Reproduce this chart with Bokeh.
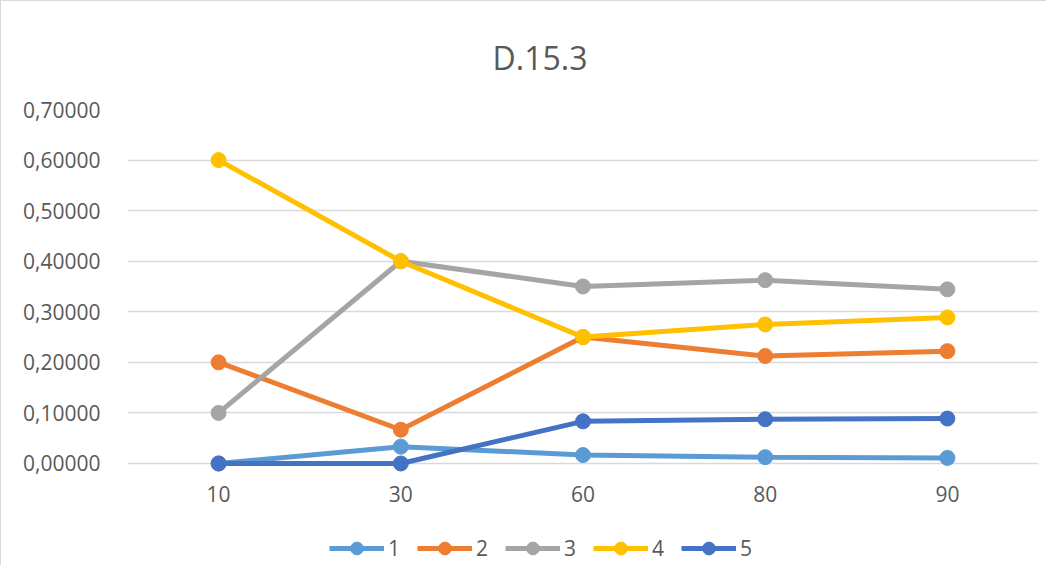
from bokeh.plotting import figure
from bokeh.models import Range1d, FactorRange, FixedTicker, CustomJSTickFormatter, Legend, LegendItem
from bokeh.core.properties import value
from bokeh.embed import file_html
from bokeh.resources import INLINE

title = "D.15.3"
categories = ["10", "30", "60", "80", "90"]
series_names = ["1", "2", "3", "4", "5"]
s1 = [0.0, 0.0333, 0.0167, 0.0125, 0.0111]
s2 = [0.2, 0.0667, 0.25, 0.2125, 0.2222]
s3 = [0.1, 0.4, 0.35, 0.3625, 0.3444]
s4 = [0.6, 0.4, 0.25, 0.275, 0.2889]
s5 = [0.0, 0.0, 0.0833, 0.0875, 0.0889]
y_ticks = [0.0, 0.1, 0.2, 0.3, 0.4, 0.5, 0.6, 0.7]

series = [s1, s2, s3, s4, s5]
colors = ["#5B9BD5", "#ED7D31", "#A5A5A5", "#FFC000", "#4472C4"]
FONT = "Open Sans"
TXT = "#595959"

# frame extended below zero so the category labels and legend live inside it
Y_MIN = -0.1938
LABEL_Y = -0.0613

p = figure(width=1046, height=565, output_backend="svg", toolbar_location=None,
           x_range=FactorRange(*categories, range_padding=0),
           y_range=Range1d(Y_MIN, 0.7),
           min_border_left=126, min_border_right=9, min_border_top=108, min_border_bottom=5)
p.outline_line_color = None
p.title.text = title
p.title.align = "left"
p.title.offset = 365
p.title.text_font = FONT
p.title.text_font_size = "32px"
p.title.text_font_style = "normal"
p.title.text_color = TXT
p.title.standoff = 62

p.xaxis.visible = False
p.xgrid.grid_line_color = None
p.ygrid.grid_line_color = "#D9D9D9"
p.ygrid.grid_line_width = 1.5
p.yaxis.ticker = FixedTicker(ticks=y_ticks)
p.yaxis.formatter = CustomJSTickFormatter(code="return tick.toFixed(5).replace('.', ',');")
p.yaxis.axis_line_color = None
p.yaxis.major_tick_line_color = None
p.yaxis.minor_tick_line_color = None
p.yaxis.major_label_text_font = FONT
p.yaxis.major_label_text_font_size = "21px"
p.yaxis.major_label_text_color = TXT
p.yaxis.major_label_standoff = 21

# category labels
p.text(x=categories, y=[LABEL_Y] * len(categories), text=categories,
       text_font=value(FONT), text_font_size="21px", text_color=TXT,
       text_align="center", text_baseline="middle")

items = []
for name, vals, c in zip(series_names, series, colors):
    lr = p.line(categories, vals, line_color=c, line_width=5)
    sr = p.scatter(categories, vals, size=15, fill_color=c, line_color=c)
    items.append(LegendItem(label=name, renderers=[lr, sr]))

legend = Legend(items=items, orientation="horizontal", location=(202, -3),
                glyph_width=55, glyph_height=32, label_standoff=4, spacing=9,
                label_text_font=FONT, label_text_font_size="21px", label_text_color=TXT,
                border_line_color=None, background_fill_alpha=0, padding=0, margin=0)
p.add_layout(legend, "center")
p.styles = {"border-left": "1px solid #D9D9D9", "border-top": "1px solid #D9D9D9"}

open("out.html", "w").write(file_html(p, INLINE))
